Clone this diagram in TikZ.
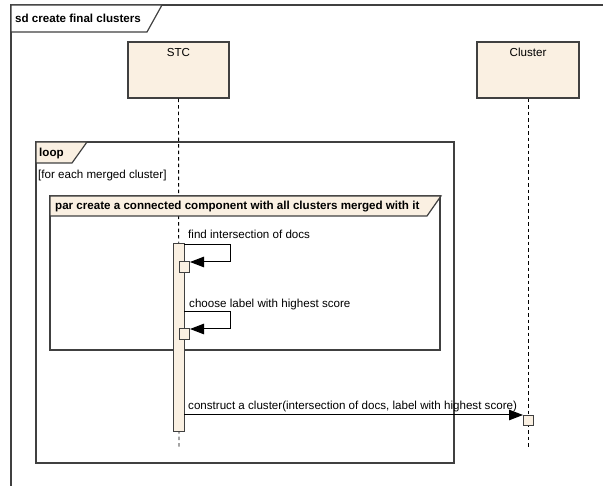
\documentclass[tikz,border=0pt]{standalone}
\usepackage{fontspec}
\setmainfont{Liberation Sans}
\usetikzlibrary{arrows.meta}
\definecolor{fillc}{HTML}{FAF0E2}
\definecolor{linec}{HTML}{404040}
\tikzset{
  lbl/.style={font=\fontsize{11.6}{13}\selectfont, inner sep=0pt, anchor=base west},
  blbl/.style={font=\fontsize{11.6}{13}\selectfont\bfseries, inner sep=0pt, anchor=base west},
  lifebox/.style={draw=linec, fill=fillc, line width=1.1pt},
  lifeline/.style={draw=black, dash pattern=on 3.5pt off 3pt, line width=0.9pt},
  act/.style={draw=linec, fill=fillc, line width=1pt},
  frame/.style={draw=linec, line width=1.2pt},
  msg/.style={draw=black, line width=1pt, -{Triangle[length=14pt,width=10.5pt]}},
}
\begin{document}
\begin{tikzpicture}[x=1pt,y=-1pt]
\useasboundingbox (0,0) rectangle (603,486);
% outer frame
\draw[frame] (11,490) -- (11,5) -- (606,5);
\draw[frame, fill=white] (11,5) -- (162,5) -- (147,32) -- (11,32) -- cycle;
\node[blbl] (sdtitle) at (15,22.5) {sd create final clusters};
% lifelines
\coordinate (stcbot) at (179,449);
\coordinate (clbot) at (528,449);
\node[lifebox, minimum width=101pt, minimum height=56pt, inner sep=0pt] (stc) at (178.5,70) {};
\node[lbl, anchor=base] (stct) at (178.5,57) {STC};
\node[lifebox, minimum width=102pt, minimum height=56pt, inner sep=0pt] (cl) at (528,70) {};
\node[lbl, anchor=base] (clt) at (528,57) {Cluster};
\draw[lifeline] (stc.south) -- (stcbot);
\draw[lifeline] (cl.south) -- (clbot);
% loop frame
\draw[frame] (36,142) rectangle (454,463);
\draw[frame, fill=fillc] (36,142) -- (87,142) -- (72,163) -- (36,163) -- cycle;
\node[blbl] (looplbl) at (39,157) {loop};
\node[lbl] (guard) at (38,178.5) {[for each merged cluster]};
% par frame
\draw[frame] (50,196) rectangle (440,350);
\draw[frame, fill=fillc] (50,196) -- (441,196) -- (427,216) -- (50,216) -- cycle;
\node[blbl] (parlbl) at (55,210) {par create a connected component with all clusters merged with it};
% activation on STC
\node[act, minimum width=11pt, minimum height=188pt, inner sep=0pt, anchor=north west] (bar) at (173,243) {};
% self message 1
\node[act, minimum width=10pt, minimum height=11pt, inner sep=0pt, anchor=north west] (a1) at (179,261) {};
\coordinate (s1a) at (184,245);
\coordinate (s1b) at (230,245);
\coordinate (s1c) at (230,262);
\draw[msg] (s1a) -- (s1b) -- (s1c) -- (a1.east |- s1c);
\node[lbl] (m1) at (188,239) {find intersection of docs};
% self message 2
\node[act, minimum width=10pt, minimum height=11pt, inner sep=0pt, anchor=north west] (a2) at (179,328) {};
\coordinate (s2a) at (184,312);
\coordinate (s2b) at (230,312);
\coordinate (s2c) at (230,329);
\draw[msg] (s2a) -- (s2b) -- (s2c) -- (a2.east |- s2c);
\node[lbl] (m2) at (189,308) {choose label with highest score};
% construct message
\node[act, minimum width=10pt, minimum height=10pt, inner sep=0pt, anchor=north west] (a3) at (523,415) {};
\coordinate (s3a) at (184,415);
\draw[msg] (s3a) -- (a3.north west);
\node[lbl] (m3) at (188,409.5) {construct a cluster(intersection of docs, label with highest score)};
\end{tikzpicture}
\end{document}
